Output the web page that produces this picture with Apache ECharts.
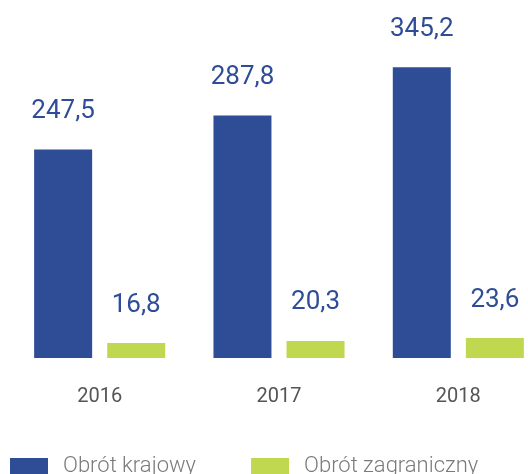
<!DOCTYPE html>
<html>
<head>
<meta charset="utf-8">
<script src="https://cdn.jsdelivr.net/npm/echarts@6/dist/echarts.min.js"></script>
<style>
  html, body { margin: 0; padding: 0; background: #fff; }
  #chart-container { width: 528px; height: 474px; }
</style>
</head>
<body>
<div id="chart-container"></div>
<script>
var years = ['2016', '2017', '2018'];
var krajowy = [247.5, 287.8, 345.2];
var zagraniczny = [16.8, 20.3, 23.6];
var seriesNames = ['Obrót krajowy', 'Obrót zagraniczny'];

var dom = document.getElementById('chart-container');
var myChart = echarts.init(dom);

// etykiety z przecinkiem dziesiętnym
function fmt(p) {
  return p.value.toFixed(1).replace('.', ',');
}

var labelStyle = {
  show: true,
  position: 'top',
  distance: 25,
  fontFamily: 'Roboto',
  fontSize: 26,
  color: '#2f4d97',
  formatter: fmt
};

myChart.setOption({
  backgroundColor: '#ffffff',
  animation: false,
  textStyle: { fontFamily: 'Roboto' },
  grid: {
    left: 10,
    top: 0,
    width: 538,
    height: 358,
    containLabel: false,
    outerBoundsMode: 'none'
  },
  legend: {
    left: 10,
    top: 455,
    padding: 0,
    itemWidth: 38,
    itemHeight: 16,
    itemGap: 55,
    icon: 'rect',
    textStyle: {
      fontFamily: 'Roboto',
      fontWeight: 300,
      fontSize: 22,
      color: '#7a7a7a',
      padding: [3, 0, 0, 10]
    },
    data: seriesNames
  },
  xAxis: {
    type: 'category',
    data: years,
    axisLine: { show: false },
    axisTick: { show: false },
    axisLabel: {
      margin: 29,
      fontFamily: 'Roboto',
      fontSize: 20,
      color: '#555555'
    }
  },
  yAxis: {
    type: 'value',
    min: 0,
    max: 425,
    show: false,
    splitLine: { show: false }
  },
  series: [
    {
      name: seriesNames[0],
      type: 'bar',
      data: krajowy,
      barWidth: 58,
      barGap: '26%',
      itemStyle: { color: '#2f4d97' },
      label: labelStyle
    },
    {
      name: seriesNames[1],
      type: 'bar',
      data: zagraniczny,
      barWidth: 58,
      barMinHeight: 15,
      itemStyle: { color: '#bfd84f' },
      label: labelStyle
    }
  ]
});

window.addEventListener('resize', myChart.resize);
</script>
</body>
</html>
